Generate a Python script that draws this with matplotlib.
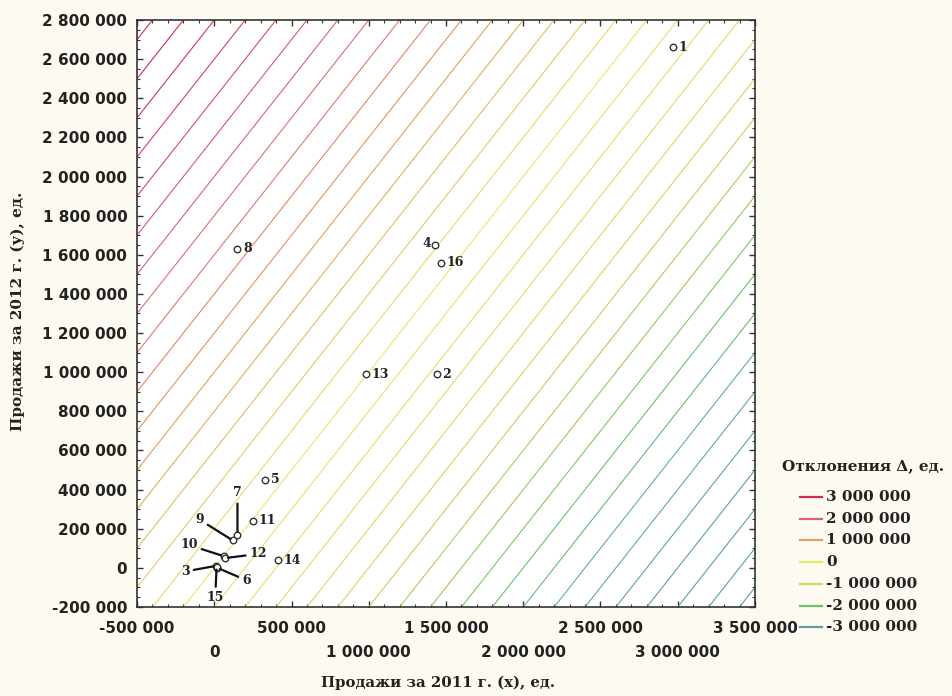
import numpy as np
import matplotlib.pyplot as plt
from matplotlib.colors import LinearSegmentedColormap
from matplotlib.lines import Line2D
from matplotlib.ticker import MultipleLocator, FuncFormatter

# data
point_ids = ['1', '2', '3', '4', '5', '6', '7', '8', '9', '10', '11', '12', '13', '14', '15', '16']
sales_2011 = [2970000, 1440000, 10000, 1430000, 330000, 20000, 150000, 150000,
              120000, 60000, 250000, 70000, 980000, 410000, 15000, 1470000]
sales_2012 = [2660000, 990000, 10000, 1650000, 450000, 0, 170000, 1630000,
              140000, 60000, 240000, 50000, 990000, 40000, 5000, 1560000]

legend_levels = [3000000, 2000000, 1000000, 0, -1000000, -2000000, -3000000]
contour_levels = np.arange(-3600000, 3400001, 200000)

# colours from -3M to 3M
anchor_vals = [-3000000, -2000000, -1000000, 0, 1000000, 2000000, 3000000]
anchor_cols = ['#5f9fa0', '#6cc06c', '#c6e05c', '#e6ea6a', '#e0a25c', '#d9627a', '#cc2f55']

# label placement (offset in points), default is to the right
label_offsets = {'4': (-3, 1), '7': (0, 30), '9': (-24, 15), '10': (-25, 8),
                 '12': (24, 3), '3': (-22, -4), '6': (21, -9), '15': (-1, -22)}
leader_ids = ['7', '9', '10', '12', '3', '6', '15']

SERIF = 'DejaVu Serif'
plt.rcParams['font.family'] = ['DejaVu Sans']

fig = plt.figure(figsize=(9.53, 6.96), dpi=100, facecolor='#fdfbf1')
ax = fig.add_axes([0.1438, 0.1279, 0.6484, 0.8434])
ax.set_facecolor('white')

def fmt(v):
    return f"{v:,.0f}".replace(",", " ")

span = anchor_vals[-1] - anchor_vals[0]
cmap = LinearSegmentedColormap.from_list(
    'dev', [((v - anchor_vals[0]) / span, c) for v, c in zip(anchor_vals, anchor_cols)])

def level_color(v):
    t = float(np.clip((v - anchor_vals[0]) / span, 0.0, 1.0))
    return cmap(t)

gx = np.linspace(-500000, 3500000, 400)
gy = np.linspace(-200000, 2800000, 400)
X, Y = np.meshgrid(gx, gy)
D = Y - X
ax.contour(X, Y, D, levels=contour_levels,
           colors=[level_color(v) for v in contour_levels], linewidths=0.8)

ax.scatter(sales_2011, sales_2012, s=22, facecolors='white', edgecolors='#333333',
           linewidths=1.0, zorder=3)

for pid, x, y in zip(point_ids, sales_2011, sales_2012):
    off = label_offsets.get(pid, (4, 0))
    ha = 'left'
    if off[0] < 0:
        ha = 'right'
    if pid in leader_ids:
        ha = 'center'
    kw = {}
    if pid in leader_ids:
        kw['arrowprops'] = dict(arrowstyle='-', color='#111111', lw=1.6, shrinkA=1, shrinkB=2)
    ax.annotate(pid, (x, y), xytext=off, textcoords='offset points', ha=ha, va='center',
                fontsize=9, fontweight='bold', family=SERIF, color='#222222',
                zorder=4, **kw)

ax.set_xlim(-500000, 3500000)
ax.set_ylim(-200000, 2800000)
ax.xaxis.set_major_locator(MultipleLocator(500000))
ax.xaxis.set_minor_locator(MultipleLocator(100000))
ax.yaxis.set_major_locator(MultipleLocator(200000))
ax.yaxis.set_minor_locator(MultipleLocator(50000))

def xfmt(v, pos):
    if round(v / 500000) % 2 == 0:
        return "\n" + fmt(v)
    return fmt(v)

ax.xaxis.set_major_formatter(FuncFormatter(xfmt))
ax.yaxis.set_major_formatter(FuncFormatter(lambda v, p: fmt(v)))
ax.tick_params(which='both', direction='in', top=True, right=True, color='#333333')
ax.tick_params(which='major', length=4, width=1)
ax.tick_params(which='minor', length=2.5, width=0.8)
ax.tick_params(axis='x', pad=10)
ax.tick_params(axis='y', pad=7)
for lab in ax.get_xticklabels() + ax.get_yticklabels():
    lab.set_fontsize(11)
    lab.set_fontweight('bold')
    lab.set_color('#222222')
for lab in ax.get_xticklabels():
    lab.set_linespacing(1.75)
for sp in ax.spines.values():
    sp.set_color('#333333')
    sp.set_linewidth(1.2)

fig.text(0.4595, 0.019, 'Продажи за 2011 г. (х), ед.', ha='center', va='center',
         fontsize=10.7, fontweight='bold', family=SERIF, color='#222222')
fig.text(0.019, 0.552, 'Продажи за 2012 г. (у), ед.', ha='center', va='center', rotation=90,
         fontsize=11, fontweight='bold', family=SERIF, color='#222222')

# legend drawn by hand: title sits left of the line samples
fig.text(782 / 953, 1 - 466 / 696, 'Отклонения Δ, ед.', ha='left', va='center',
         fontsize=11, fontweight='bold', family=SERIF, color='#222222')
for i, v in enumerate(legend_levels):
    yy = 1 - (497 + i * 21.7) / 696
    fig.add_artist(Line2D([800 / 953, 822 / 953], [yy, yy], transform=fig.transFigure,
                          color=level_color(v), lw=1.6))
    fig.text(826 / 953, yy, fmt(v), ha='left', va='center', fontsize=11,
             fontweight='bold', family=SERIF, color='#222222')

fig.savefig('out.png', dpi=100, facecolor=fig.get_facecolor())
